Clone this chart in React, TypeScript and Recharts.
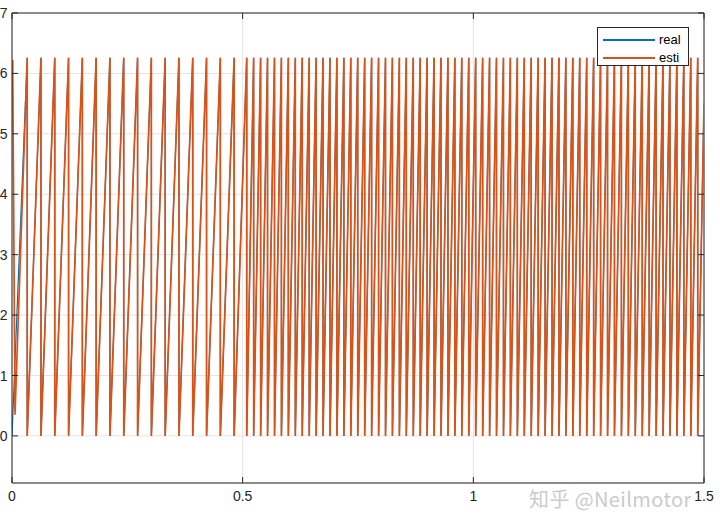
import React from 'react';
import { LineChart, Line, XAxis, YAxis, CartesianGrid, ReferenceLine } from 'recharts';

// wrap instants (rad angle falls from 2*pi back to 0)
const WRAP_SLOW = [
  0.0330, 0.0628, 0.0927, 0.1226, 0.1525, 0.1824, 0.2123, 0.2422,
  0.2722, 0.3021, 0.3320, 0.3619, 0.3918, 0.4217, 0.4516, 0.4815,
];
const WRAP_FAST = [
  0.5088, 0.5238, 0.5389, 0.5539, 0.5690, 0.5840, 0.5990, 0.6141, 0.6291, 0.6442,
  0.6592, 0.6742, 0.6893, 0.7043, 0.7194, 0.7344, 0.7494, 0.7645, 0.7795, 0.7946,
  0.8096, 0.8246, 0.8397, 0.8547, 0.8698, 0.8848, 0.8998, 0.9149, 0.9299, 0.9450,
  0.9600, 0.9750, 0.9901, 1.0051, 1.0202, 1.0352, 1.0502, 1.0653, 1.0803, 1.0954,
  1.1104, 1.1254, 1.1405, 1.1555, 1.1706, 1.1856, 1.2006, 1.2157, 1.2307, 1.2458,
  1.2608, 1.2758, 1.2909, 1.3059, 1.3210, 1.3360, 1.3510, 1.3661, 1.3811, 1.3962,
  1.4112, 1.4262, 1.4413, 1.4563, 1.4714, 1.4864,
];
const PEAK = 6.26;
const END_POINT = { t: 1.5, v: 5.5 };
const REAL_START = [{ t: 0, v: 0 }];
const ESTI_START = [
  { t: 0, v: 5.57 },
  { t: 0.0015, v: 6.22 },
  { t: 0.0065, v: 0.35 },
];

const X_TICKS = [0, 0.5, 1, 1.5];
const Y_TICKS = [0, 1, 2, 3, 4, 5, 6, 7];

const buildSeries = (start: { t: number; v: number }[]) => {
  const pts = [...start];
  [...WRAP_SLOW, ...WRAP_FAST].forEach((w) => {
    pts.push({ t: w, v: PEAK });
    pts.push({ t: w, v: 0 });
  });
  pts.push(END_POINT);
  return pts;
};

const realData = buildSeries(REAL_START);
const estiData = buildSeries(ESTI_START);

const W = 720;
const H = 530;
const PLOT_LEFT = 12;
const PLOT_RIGHT = 704;
const PLOT_TOP = 13;
const PLOT_BOTTOM = 483;
const TICK_LEN = 6;
const AXIS_COLOR = '#262626';
const FONT = '"Liberation Sans", Arial, sans-serif';

const XTick = (props: any) => {
  const { x, y, payload } = props;
  return (
    <g>
      <line x1={x} y1={y} x2={x} y2={y - TICK_LEN} stroke={AXIS_COLOR} />
      <line x1={x} y1={PLOT_TOP} x2={x} y2={PLOT_TOP + TICK_LEN} stroke={AXIS_COLOR} />
      <text x={x} y={y + 18} textAnchor="middle" fontSize={14} fill={AXIS_COLOR} fontFamily={FONT}>
        {payload.value}
      </text>
    </g>
  );
};

const YTick = (props: any) => {
  const { x, y, payload } = props;
  return (
    <g>
      <line x1={x} y1={y} x2={x + TICK_LEN} y2={y} stroke={AXIS_COLOR} />
      <line x1={PLOT_RIGHT} y1={y} x2={PLOT_RIGHT - TICK_LEN} y2={y} stroke={AXIS_COLOR} />
      <text x={x - 4.5} y={y} dy="0.36em" textAnchor="end" fontSize={14} fill={AXIS_COLOR} fontFamily={FONT}>
        {payload.value}
      </text>
    </g>
  );
};

const LegendBox = () => (
  <div
    style={{
      position: 'absolute',
      left: 597,
      top: 27,
      width: 90,
      height: 37,
      background: '#fff',
      border: `1px solid ${AXIS_COLOR}`,
      fontFamily: FONT,
      fontSize: 13,
      color: '#000',
    }}
  >
    {[
      { name: 'real', color: '#0072BD' },
      { name: 'esti', color: '#D95319' },
    ].map((s, i) => (
      <div key={s.name} style={{ position: 'absolute', left: 0, top: 3 + i * 18, height: 18, width: 90 }}>
        <div style={{ position: 'absolute', left: 5, top: 8, width: 52, height: 1.5, background: s.color }} />
        <span style={{ position: 'absolute', left: 61, top: 0, lineHeight: '18px' }}>{s.name}</span>
      </div>
    ))}
  </div>
);

export default function App() {
  return (
    <div style={{ position: 'absolute', left: 0, top: 0, width: W, height: H, background: '#fff' }}>
      <LineChart
        width={W}
        height={H}
        margin={{ top: PLOT_TOP, right: W - PLOT_RIGHT, left: 0, bottom: 0 }}
      >
        <CartesianGrid stroke="#e3e3e3" strokeWidth={1} />
        <XAxis
          dataKey="t"
          type="number"
          domain={[0, 1.5]}
          ticks={X_TICKS}
          allowDataOverflow
          height={H - PLOT_BOTTOM}
          tickSize={0}
          tickMargin={0}
          tickLine={false}
          axisLine={{ stroke: AXIS_COLOR }}
          tick={<XTick />}
          interval={0}
        />
        <YAxis
          type="number"
          domain={[-0.78, 7]}
          ticks={Y_TICKS}
          allowDataOverflow
          width={PLOT_LEFT}
          tickSize={0}
          tickMargin={0}
          tickLine={false}
          axisLine={{ stroke: AXIS_COLOR }}
          tick={<YTick />}
          interval={0}
        />
        <ReferenceLine y={7} stroke={AXIS_COLOR} />
        <ReferenceLine x={1.5} stroke={AXIS_COLOR} />
        <Line
          data={realData}
          dataKey="v"
          type="linear"
          stroke="#0072BD"
          strokeWidth={1.2}
          dot={false}
          isAnimationActive={false}
        />
        <Line
          data={estiData}
          dataKey="v"
          type="linear"
          stroke="#D95319"
          strokeWidth={1.7}
          dot={false}
          isAnimationActive={false}
        />
      </LineChart>
      <LegendBox />
      <div
        style={{
          position: 'absolute',
          left: 529,
          top: 489,
          fontFamily: '"Noto Sans CJK SC", sans-serif',
          fontSize: 20,
          lineHeight: '20px',
          letterSpacing: 0.4,
          color: '#cbcbcb',
          whiteSpace: 'nowrap',
        }}
      >
        知乎 @Neilmotor
      </div>
    </div>
  );
}
